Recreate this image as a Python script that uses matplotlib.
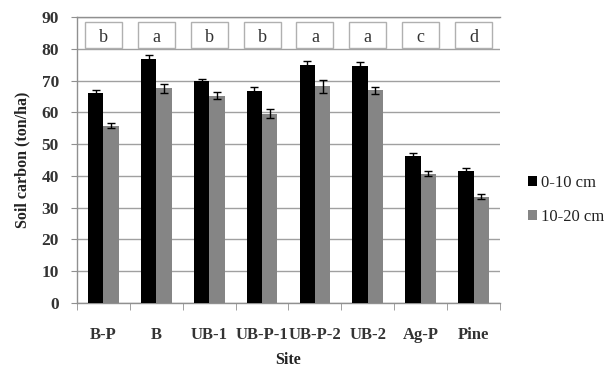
import matplotlib
matplotlib.use("Agg")
import matplotlib.pyplot as plt
from matplotlib.patches import Rectangle
import numpy as np

sites = ["B-P", "B", "UB-1", "UB-P-1", "UB-P-2", "UB-2", "Ag-P", "Pine"]
depth_0_10 = [66.0, 76.7, 69.8, 66.7, 74.8, 74.5, 46.2, 41.6]
depth_10_20 = [55.8, 67.5, 65.2, 59.6, 68.2, 67.0, 40.7, 33.5]
err_0_10 = [1.0, 1.2, 0.8, 1.2, 1.3, 1.3, 1.0, 0.8]
err_10_20 = [0.8, 1.4, 1.1, 1.3, 2.0, 1.1, 0.8, 0.9]
letters = ["b", "a", "b", "b", "a", "a", "c", "d"]
series_names = ["0-10 cm", "10-20 cm"]

plt.rcParams['font.family'] = ['Liberation Serif', 'DejaVu Serif']

fig = plt.figure(figsize=(6.09, 3.69), dpi=100)
ax = fig.add_axes([0.1264, 0.179, 0.821 - 0.1264, 0.954 - 0.179])

x = np.arange(len(sites))
w = 0.29
ax.bar(x - w / 2, depth_0_10, w, color="black", label=series_names[0], zorder=3)
ax.bar(x + w / 2, depth_10_20, w, color="#858585", label=series_names[1], zorder=3)
ax.errorbar(x - w / 2, depth_0_10, yerr=err_0_10, fmt="none", ecolor="black",
            elinewidth=1, capsize=3, capthick=1, zorder=4)
ax.errorbar(x + w / 2, depth_10_20, yerr=err_10_20, fmt="none", ecolor="black",
            elinewidth=1, capsize=3, capthick=1, zorder=4)

# letter boxes in the top band
for xi, lab in zip(x, letters):
    ax.add_patch(Rectangle((xi - 0.35, 80.3), 0.7, 8.2, facecolor="white",
                           edgecolor="#b0b0b0", lw=1.0, zorder=2))
    ax.text(xi, 81.0, lab, ha="center", va="bottom", fontsize=13,
            color="#333333", zorder=5)

ax.set_xlim(-0.5, len(sites) - 0.5)
ax.set_ylim(0, 90)
ax.set_yticks(np.arange(0, 91, 10))
ax.set_xticks(x)
ax.set_xticklabels(sites)
ax.set_xticks(np.arange(-0.5, len(sites), 1), minor=True)

ax.grid(axis="y", color="#a0a0a0", lw=1.0, zorder=0)
ax.set_axisbelow(True)
ax.spines["right"].set_visible(False)
for s in ["left", "bottom", "top"]:
    ax.spines[s].set_color("#909090")
    ax.spines[s].set_linewidth(1.0)

ax.tick_params(axis="x", which="major", length=0, pad=17, labelsize=12,
               labelcolor="#333333")
ax.tick_params(axis="x", which="minor", length=5, color="#909090", direction="out")
ax.tick_params(axis="y", length=4, color="#909090", pad=9, labelsize=12.5,
               labelcolor="#333333")
for lbl in ax.get_xticklabels() + ax.get_yticklabels():
    lbl.set_fontweight("bold")

ax.set_ylabel("Soil carbon (ton/ha)", fontsize=11.5, fontweight="bold",
              color="#222222", labelpad=8)
ax.set_xlabel("Site", fontsize=11.5, fontweight="bold", color="#222222", labelpad=7)

leg = ax.legend(loc="center left", bbox_to_anchor=(1.03, 0.36), frameon=False,
                fontsize=12, handlelength=0.55, handleheight=0.55,
                handletextpad=0.25, labelspacing=1.1)
for t in leg.get_texts():
    t.set_color("#222222")

fig.savefig("out.png", dpi=100)
